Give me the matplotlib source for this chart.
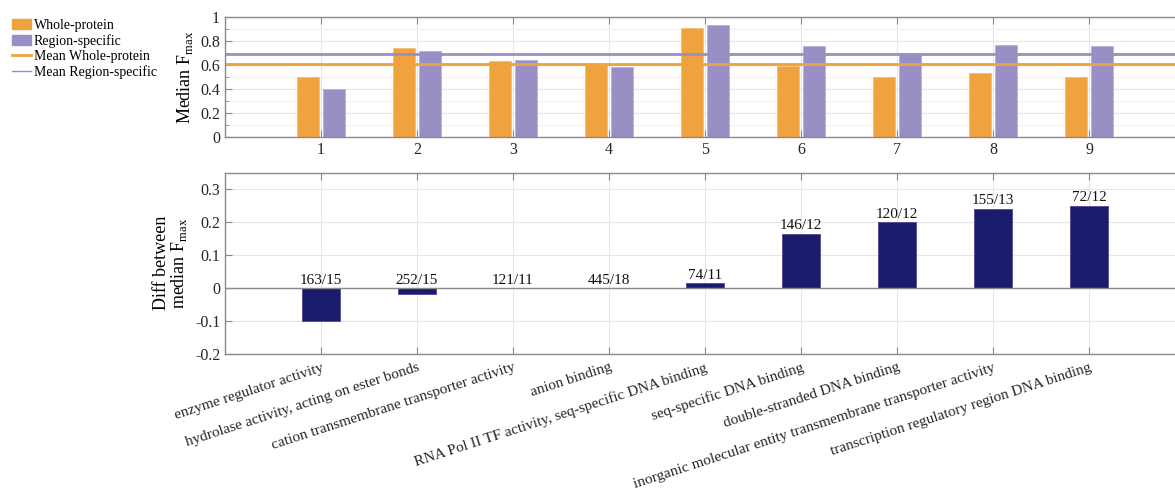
import matplotlib

matplotlib.use("Agg")
import matplotlib.pyplot as plt
import numpy as np
from matplotlib.lines import Line2D
from matplotlib.patches import Patch

ORANGE = "#EFA23E"
PURPLE = "#998FC4"
NAVY = "#1B1B6E"
SPINE = "#8A8A8A"
GRID = "#E6E6E6"

plt.rcParams["font.family"] = ["Liberation Serif", "DejaVu Serif"]
plt.rcParams["mathtext.fontset"] = "custom"
plt.rcParams["mathtext.rm"] = "Liberation Serif"

categories = [
    "enzyme regulator activity",
    "hydrolase activity, acting on ester bonds",
    "cation transmembrane transporter activity",
    "anion binding",
    "RNA Pol II TF activity, seq-specific DNA binding",
    "seq-specific DNA binding",
    "double-stranded DNA binding",
    "inorganic molecular entity transmembrane transporter activity",
    "transcription regulatory region DNA binding",
]
whole_protein = [0.50, 0.74, 0.63, 0.60, 0.91, 0.59, 0.50, 0.53, 0.50]
region_specific = [0.40, 0.72, 0.64, 0.58, 0.93, 0.76, 0.70, 0.77, 0.76]
diff_median = [-0.10, -0.018, 0.0, 0.0, 0.015, 0.165, 0.20, 0.24, 0.25]
counts = ["163/15", "252/15", "121/11", "445/18", "74/11",
          "146/12", "120/12", "155/13", "72/12"]

W, H = 1175, 501
fig = plt.figure(figsize=(W / 100, H / 100), dpi=100)

# axes extend past the right edge, so the right spine is cut off
left = 225 / W
width = 960 / W
ax1 = fig.add_axes([left, (H - 137) / H, width, 120 / H])
ax2 = fig.add_axes([left, (H - 354) / H, width, 181.5 / H])

x = np.arange(1, len(categories) + 1)


def style(ax):
    for s in ax.spines.values():
        s.set_color(SPINE)
        s.set_linewidth(1.0)
    ax.tick_params(direction="in", which="both", colors=SPINE,
                   labelcolor="#262626", labelsize=11.5,
                   top=True, right=True, length=5)
    ax.tick_params(which="minor", length=3)
    ax.set_axisbelow(True)
    ax.set_xlim(0, 10)
    ax.set_xticks(x)


# --- top: medians per group ---
style(ax1)
off, bw = 0.14, 0.23
ax1.bar(x - off, whole_protein, bw, color=ORANGE, edgecolor="#F5BE74", lw=0.6)
ax1.bar(x + off, region_specific, bw, color=PURPLE, edgecolor="#B7AFD8", lw=0.6)
ax1.axhline(np.mean(whole_protein), color=ORANGE, lw=2)
ax1.axhline(np.mean(region_specific), color=PURPLE, lw=2)
ax1.set_ylim(0, 1)
ax1.set_yticks([0, 0.2, 0.4, 0.6, 0.8, 1.0])
ax1.set_yticks([0.1, 0.3, 0.5, 0.7, 0.9], minor=True)
ax1.set_yticklabels(["0", "0.2", "0.4", "0.6", "0.8", "1"])
ax1.grid(True, which="major", color=GRID, lw=0.8)
ax1.grid(True, which="minor", axis="y", color="#F0F0F0", lw=0.8)
ax1.set_xticklabels([str(i) for i in x])
ax1.set_ylabel(r"Median F$_{\mathrm{max}}$", fontsize=13, labelpad=4)

handles = [
    Patch(color=ORANGE, label="Whole-protein"),
    Patch(color=PURPLE, label="Region-specific"),
    Line2D([], [], color=ORANGE, lw=2, label="Mean Whole-protein"),
    Line2D([], [], color=PURPLE, lw=1, label="Mean Region-specific"),
]
fig.legend(handles=handles, loc="upper left",
           bbox_to_anchor=(12 / W, 1 - 19 / H),
           frameon=False, fontsize=10, handlelength=1.37, handleheight=0.75,
           handletextpad=0.2, labelspacing=0.16, borderpad=0,
           borderaxespad=0)

# --- bottom: difference between medians ---
style(ax2)
ax2.bar(x, diff_median, 0.4, color=NAVY, edgecolor="#4C4C90", lw=0.6, zorder=2)
ax2.axhline(0, color=SPINE, lw=1, zorder=3)
for xi, v, c in zip(x, diff_median, counts):
    ax2.text(xi, max(v, 0) + 0.004, c, ha="center", va="bottom",
             fontsize=11, color="#111111", zorder=4)
ax2.set_ylim(-0.2, 0.35)
ax2.set_yticks([-0.2, -0.1, 0, 0.1, 0.2, 0.3])
ax2.set_yticklabels(["-0.2", "-0.1", "0", "0.1", "0.2", "0.3"])
ax2.grid(True, color=GRID, lw=0.8)
ax2.set_xticklabels(categories, rotation=18, ha="right",
                    rotation_mode="anchor", fontsize=11)
ax2.tick_params(axis="x", pad=5)
ax2.set_ylabel("Diff between\n" + r"median F$_{\mathrm{max}}$",
               fontsize=13, labelpad=4, linespacing=0.95)

fig.savefig("out.png", dpi=100)
